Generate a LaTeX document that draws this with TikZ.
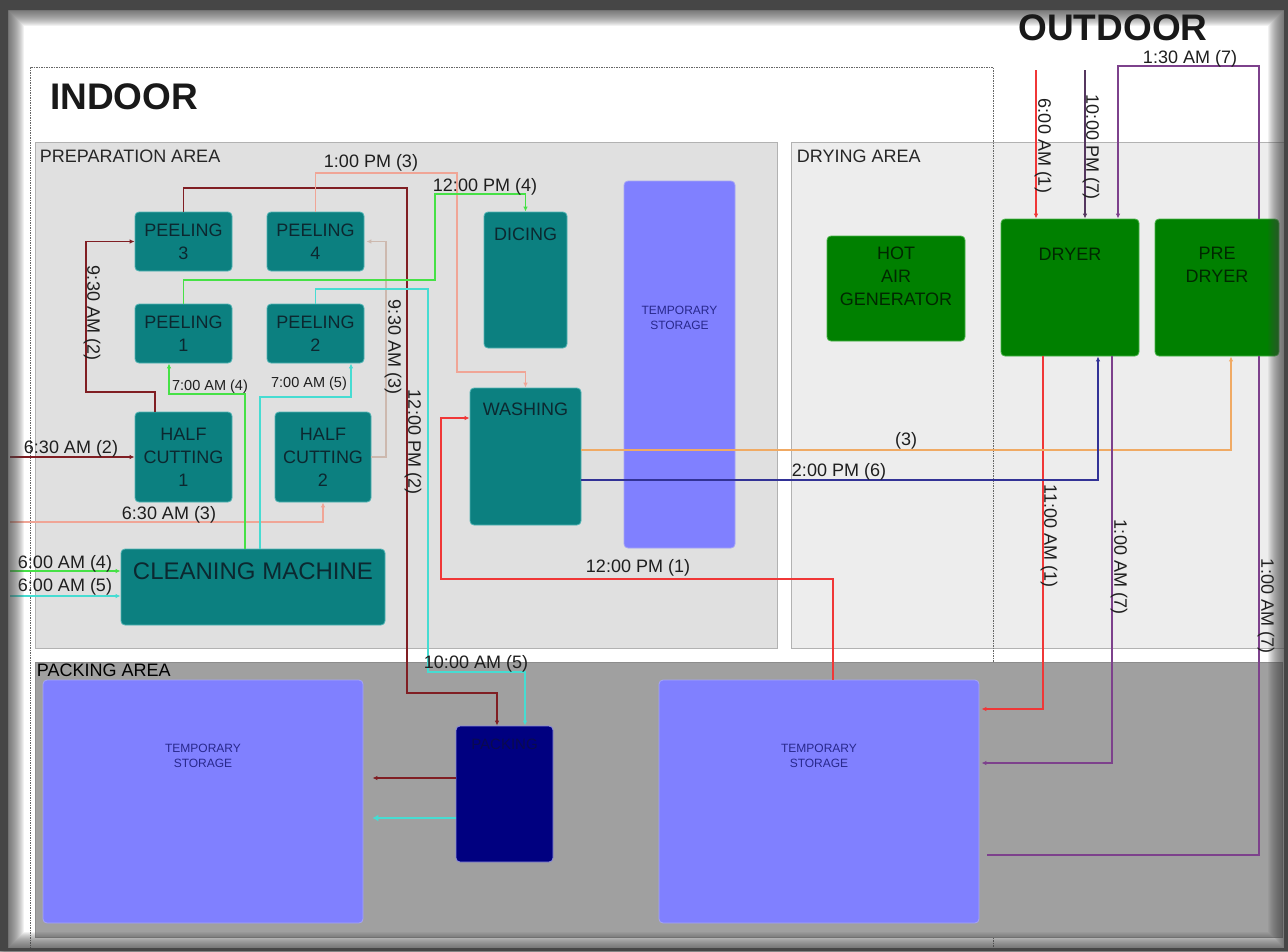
\documentclass[tikz,border=0pt]{standalone}
\usepackage{fontspec}
\setmainfont{Liberation Sans}
\usetikzlibrary{arrows.meta,calc}
\definecolor{tealc}{RGB}{12,128,128}
\definecolor{tealedge}{RGB}{80,180,180}
\definecolor{boxtext}{RGB}{12,40,48}
\definecolor{greenc}{RGB}{0,128,0}
\definecolor{greenedge}{RGB}{70,180,70}
\definecolor{greentext}{RGB}{0,40,0}
\definecolor{lav}{RGB}{128,128,255}
\definecolor{lavedge}{RGB}{165,165,245}
\definecolor{storetext}{RGB}{40,40,140}
\definecolor{navyc}{RGB}{0,0,128}
\definecolor{navyedge}{RGB}{140,140,220}
\definecolor{packtext}{RGB}{10,10,80}
\definecolor{prepg}{RGB}{224,224,224}
\definecolor{dryg}{RGB}{237,237,237}
\definecolor{packg}{RGB}{160,160,160}
\definecolor{frameg}{RGB}{70,70,70}
\definecolor{maroonl}{RGB}{128,30,35}
\definecolor{salmonl}{RGB}{240,165,150}
\definecolor{tanl}{RGB}{205,185,175}
\definecolor{greenl}{RGB}{70,225,70}
\definecolor{cyanl}{RGB}{70,220,210}
\definecolor{redl}{RGB}{240,55,55}
\definecolor{orangel}{RGB}{240,170,100}
\definecolor{navyl}{RGB}{50,50,150}
\definecolor{purplel}{RGB}{125,65,140}
\definecolor{dpurple}{RGB}{85,55,95}
\definecolor{lbltext}{RGB}{30,30,30}
\begin{document}
\begin{tikzpicture}[x=1pt,y=-1pt,
  unitbox/.style={rounded corners=4pt, inner sep=0pt, align=center, text=boxtext, font=\fontsize{18}{23}\selectfont, line width=0.8pt},
  tealbox/.style={unitbox, fill=tealc, draw=tealedge},
  greenbox/.style={unitbox, fill=greenc, draw=greenedge, text=greentext},
  storebox/.style={unitbox, fill=lav, draw=lavedge, text=storetext},
  packbox/.style={unitbox, fill=navyc, draw=navyedge},
  intext/.style={anchor=center, inner sep=0pt, align=center, text=boxtext, font=\fontsize{18}{23}\selectfont},
  storetxt/.style={intext, text=storetext, font=\fontsize{12}{15}\selectfont},
  area/.style={inner sep=0pt, draw=black!30, line width=0.6pt},
  arealbl/.style={anchor=west, inner sep=0pt, text=black!85, font=\fontsize{18}{20}\selectfont},
  flow/.style={line width=1.4pt},
  arr/.style={-{Latex[length=5pt,width=4.5pt]}},
  lbl/.style={inner sep=0pt, text=lbltext, font=\fontsize{18}{20}\selectfont},
  slbl/.style={lbl, font=\fontsize{14.5}{16}\selectfont},
  vlbl/.style={lbl, rotate=-90},
  indoor/.style={draw=black!60, line width=0.8pt, dash pattern=on 1.5pt off 1pt}
]
\useasboundingbox (0,0) rectangle (1288,951);
\fill[white] (0,0) rectangle (1288,951);

% areas
\node[area, fill=prepg, minimum width=742pt, minimum height=506pt,
  label={[arealbl, xshift=5pt, yshift=-15pt]north west:PREPARATION AREA}] (prep) at (406,395) {};
\node[area, fill=dryg, minimum width=504pt, minimum height=506pt,
  label={[arealbl, xshift=6pt, yshift=-15pt]north west:DRYING AREA}] (dryarea) at (1043,395) {};
\draw[indoor] (30,951) -- (30,67) -- (993,67) -- (993,951);
\node[area, fill=packg, draw=black!45, minimum width=1247pt, minimum height=275pt,
  label={[arealbl, text=black, xshift=2pt, yshift=-9pt]north west:PACKING AREA}] (packarea) at (658.5,799.5) {};

\node[anchor=west, inner sep=0pt, font=\fontsize{37}{40}\selectfont\bfseries, text=black!90] (indoorlbl) at (50,97) {INDOOR};

% machines
\node[tealbox, minimum width=97pt, minimum height=59pt] (p3) at (183.5,241.5) {PEELING\\3};
\node[tealbox, minimum width=97pt, minimum height=59pt] (p4) at (315.5,241.5) {PEELING\\4};
\node[tealbox, minimum width=97pt, minimum height=59pt] (p1) at (183.5,333.5) {PEELING\\1};
\node[tealbox, minimum width=97pt, minimum height=59pt] (p2) at (315.5,333.5) {PEELING\\2};
\node[tealbox, minimum width=97pt, minimum height=90pt] (hc1) at (183.5,457) {HALF\\CUTTING\\1};
\node[tealbox, minimum width=96pt, minimum height=90pt] (hc2) at (323,457) {HALF\\CUTTING\\2};
\node[tealbox, minimum width=264pt, minimum height=76pt,
  label={[intext, font=\fontsize{24}{28}\selectfont, yshift=-23pt]north:CLEANING MACHINE}] (cm) at (253,587) {};
\node[tealbox, minimum width=83pt, minimum height=136pt,
  label={[intext, yshift=-23pt]north:DICING}] (dice) at (525.5,280) {};
\node[tealbox, minimum width=111pt, minimum height=137pt,
  label={[intext, yshift=-22pt]north:WASHING}] (wash) at (525.5,456.5) {};
\node[storebox, minimum width=111pt, minimum height=367pt,
  label={[storetxt, yshift=-137pt]north:TEMPORARY\\STORAGE}] (ts1) at (679.5,364.5) {};
\node[greenbox, minimum width=138pt, minimum height=105pt,
  label={[intext, text=greentext, yshift=-40.5pt]north:HOT\\AIR\\GENERATOR}] (hag) at (896,288.5) {};
\node[greenbox, minimum width=138pt, minimum height=137pt,
  label={[intext, text=greentext, yshift=-36pt]north:DRYER}] (dry) at (1070,287.5) {};
\node[greenbox, minimum width=124pt, minimum height=137pt,
  label={[intext, text=greentext, yshift=-46.5pt]north:PRE\\DRYER}] (pre) at (1217,287.5) {};
\node[storebox, minimum width=320pt, minimum height=243pt,
  label={[storetxt, yshift=-76.5pt]north:TEMPORARY\\STORAGE}] (ts2) at (203,801.5) {};
\node[storebox, minimum width=320pt, minimum height=243pt,
  label={[storetxt, yshift=-76.5pt]north:TEMPORARY\\STORAGE}] (ts3) at (819,801.5) {};
\node[packbox, minimum width=97pt, minimum height=136pt,
  label={[intext, text=packtext, font=\fontsize{15}{18}\selectfont, yshift=-19pt]north:PACKING}] (pack) at (504.5,794) {};

% free ends
\coordinate (in2) at (10,457);
\coordinate (in3) at (10,522);
\coordinate (in4) at (10,571);
\coordinate (in5) at (10,596);
\coordinate (o1) at (1036,70);
\coordinate (o2) at (1085,70);
\coordinate (pm) at ([yshift=16pt]pack.west);
\coordinate (pc) at ([yshift=-24pt]pack.west);

% connectors: maroon
\draw[flow, maroonl, arr] (in2) -- (hc1.west);
\draw[flow, maroonl, arr] ([xshift=-28.5pt]hc1.north) |- (86,392) |- (p3.west);
\draw[flow, maroonl, arr] (p3.north) |- (407,188) |- (497,693) -- ([xshift=-7.5pt]pack.north);
\draw[flow, maroonl, arr, shorten >=9pt] (pm) -- (pm -| ts2.east);
% salmon / tan
\draw[flow, salmonl, line width=1.2pt, arr] (p4.north) |- (457,173) |- (525.5,372) -- (wash.north);
\draw[flow, salmonl, line width=1.2pt, arr] (in3) -| (hc2.south);
\draw[flow, tanl, line width=1.2pt, arr, shorten >=2pt] (hc2.east) -| (386,241.5) -- (p4.east);
% green
\draw[flow, greenl, arr] (in4) -- ([yshift=16pt]cm.west);
\draw[flow, greenl, arr] ([xshift=-8pt]cm.north) |- (169,394) -- ([xshift=-14.5pt]p1.south);
\draw[flow, greenl, arr] (p1.north) |- (435,280) |- (525.5,194) -- (dice.north);
% cyan
\draw[flow, cyanl, arr] (in5) -- ([yshift=-9pt]cm.west);
\draw[flow, cyanl, arr] ([xshift=7pt]cm.north) |- (351,397) -- ([xshift=35.5pt]p2.south);
\draw[flow, cyanl, arr] (p2.north) |- (428,289) |- (525,672) -- ([xshift=20.5pt]pack.north);
\draw[cyanl, line width=2.4pt, -{Latex[length=6pt,width=7pt]}, shorten >=9pt] (pc) -- (pc -| ts2.east);
% red
\draw[flow, redl, arr] ([xshift=14pt]ts3.north) |- (441,579) |- ([yshift=38.5pt]wash.west);
\draw[flow, redl, arr] (o1) -- ([xshift=-34pt]dry.north);
\draw[flow, redl, arr, shorten >=2pt] ([xshift=-27pt]dry.south) |- ([yshift=92.5pt]ts3.east);
% washing to dryers
\draw[flow, orangel, line width=1.2pt, arr] ([yshift=6.5pt]wash.east) -| ([xshift=14pt]pre.south);
\draw[flow, navyl, arr] ([yshift=-23.5pt]wash.east) -| ([xshift=28pt]dry.south);
% purple
\draw[flow, dpurple, arr] (o2) -- ([xshift=15pt]dry.north);
\draw[flow, purplel, arr] ([xshift=42pt]pre.north) |- (1118,66) -- ([xshift=48pt]dry.north);
\draw[flow, purplel, arr, shorten >=2pt] ([xshift=42pt]dry.south) |- ([yshift=38.5pt]ts3.east);
\draw[flow, purplel, shorten >=8pt] ([xshift=42pt]pre.south) |- ([yshift=-53.5pt]ts3.east);

% labels
\node[lbl] (l1) at (71,449) {6:30 AM (2)};
\node[vlbl] (l2) at (92,313) {9:30 AM (2)};
\node[vlbl] (l3) at (413,442) {12:00 PM (2)};
\node[lbl] (l4) at (371,163) {1:00 PM (3)};
\node[vlbl] (l5) at (393,347) {9:30 AM (3)};
\node[lbl] (l6) at (169,515) {6:30 AM (3)};
\node[lbl] (l7) at (65,564) {6:00 AM (4)};
\node[lbl] (l8) at (65,587) {6:00 AM (5)};
\node[slbl] (l9) at (210,387) {7:00 AM (4)};
\node[slbl] (l10) at (309,384) {7:00 AM (5)};
\node[lbl] (l11) at (485,187) {12:00 PM (4)};
\node[lbl] (l12) at (476,664) {10:00 AM (5)};
\node[lbl] (l13) at (638,568) {12:00 PM (1)};
\node[lbl] (l14) at (906,441) {(3)};
\node[lbl] (l15) at (839,472) {2:00 PM (6)};
\node[vlbl] (l16) at (1043,146) {6:00 AM (1)};
\node[vlbl] (l17) at (1091,147) {10:00 PM (7)};
\node[lbl] (l18) at (1190,59) {1:30 AM (7)};
\node[vlbl] (l19) at (1049,536) {11:00 AM (1)};
\node[vlbl] (l20) at (1119,567) {1:00 AM (7)};
\node[vlbl] (l21) at (1266,606) {1:00 AM (7)};

% vignette frame
\fill[frameg, even odd rule] (0,0) rectangle (1288,951) (8,10) rectangle (1284,948);
\foreach \w in {2,4,...,32} \draw[frameg, opacity=0.07, line width=\w pt] (8,10) rectangle (1284,948);

\node[inner sep=0pt, font=\fontsize{37}{40}\selectfont\bfseries, text=black!90] (outdoorlbl) at (1113,28) {OUTDOOR};
\end{tikzpicture}
\end{document}
